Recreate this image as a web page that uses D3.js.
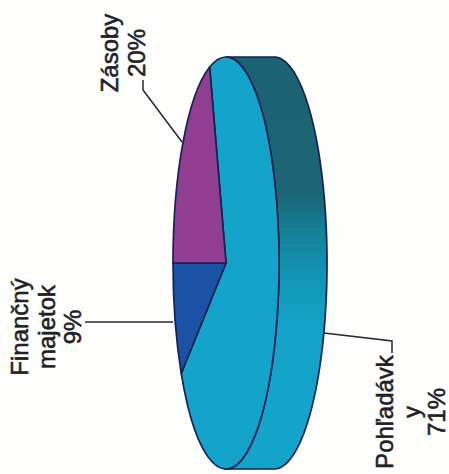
<!DOCTYPE html>
<html>
<head>
<meta charset="utf-8">
<script src="https://cdn.jsdelivr.net/npm/d3@7/dist/d3.min.js"></script>
<style>
html,body{margin:0;padding:0;background:#fdfdfc;}
svg{display:block;}
text{font-family:"Liberation Sans",Arial,sans-serif;font-size:24px;fill:#202026;stroke:#202026;stroke-width:0.55px;text-anchor:middle;}
</style>
</head>
<body>
<script>
const categories = ["Pohľadávky", "Finančný majetok", "Zásoby"];
const shares = [71, 9, 20];
const sliceColors = ["#14a3cb", "#1b52a6", "#923e93"];
const labelLines = [["Pohľadávk", "y", "71%"], ["Finančný", "majetok", "9%"], ["Zásoby", "20%"]];

const W = 449, H = 474;
const cx = 226, cy = 263, rx = 53, ry = 206, depth = 48;
const ink = "#16224f";
const rad = d => d * Math.PI / 180;

const svg = d3.select("body").append("svg").attr("width", W).attr("height", H);

const grad = svg.append("defs").append("linearGradient")
  .attr("id", "rim").attr("x1", 0).attr("y1", 0).attr("x2", 0).attr("y2", 1);
[[0, "#1b6373"], [0.33, "#1b6575"], [0.43, "#15819a"], [0.54, "#1197b6"], [0.66, "#14a3cb"], [1, "#14a3cb"]]
  .forEach(([o, c]) => grad.append("stop").attr("offset", o).attr("stop-color", c));

// side wall: far half of the ellipse shifted right, closed along the near half
const ellipsePoint = (a, dx) => [cx + dx + rx * Math.sin(a), cy - ry * Math.cos(a)];
const wall = d3.range(0, 181, 2).map(d => ellipsePoint(rad(d), depth))
  .concat(d3.range(180, -1, -2).map(d => ellipsePoint(rad(d), 0)));
svg.append("path")
  .attr("d", d3.line()(wall) + "Z")
  .attr("fill", "url(#rim)")
  .attr("stroke", ink).attr("stroke-width", 1.7).attr("stroke-linejoin", "round");

// top face
const pie = d3.pie().sort(null).startAngle(rad(342)).endAngle(rad(342 + 360));
const arc = d3.arc().innerRadius(0).outerRadius(ry);
svg.append("g")
  .attr("transform", `translate(${cx},${cy}) scale(${rx / ry},1)`)
  .selectAll("path").data(pie(shares)).join("path")
  .attr("d", arc)
  .attr("fill", (d, i) => sliceColors[i])
  .attr("stroke", ink).attr("stroke-width", 1.7)
  .attr("stroke-linejoin", "round")
  .attr("vector-effect", "non-scaling-stroke");

// leader lines
const leaders = [
  [[324, 333], [392, 341], [392, 353]],
  [[85, 322], [173, 322]],
  [[143, 80], [143, 90], [182, 142]]
];
svg.selectAll("path.leader").data(leaders).join("path")
  .attr("class", "leader")
  .attr("d", d3.line())
  .attr("fill", "none").attr("stroke", "#26262e").attr("stroke-width", 1.5);

// labels: rotated text, one baseline per line
const labelAnchors = [
  { y: 412, x: [393, 420, 445] },
  { y: 327, x: [28, 55, 81] },
  { y: 53, x: [118, 145] }
];
labelLines.forEach((lines, i) => {
  lines.forEach((t, j) => {
    svg.append("text")
      .attr("transform", `translate(${labelAnchors[i].x[j]},${labelAnchors[i].y}) rotate(-90)`)
      .text(t);
  });
});
</script>
</body>
</html>
